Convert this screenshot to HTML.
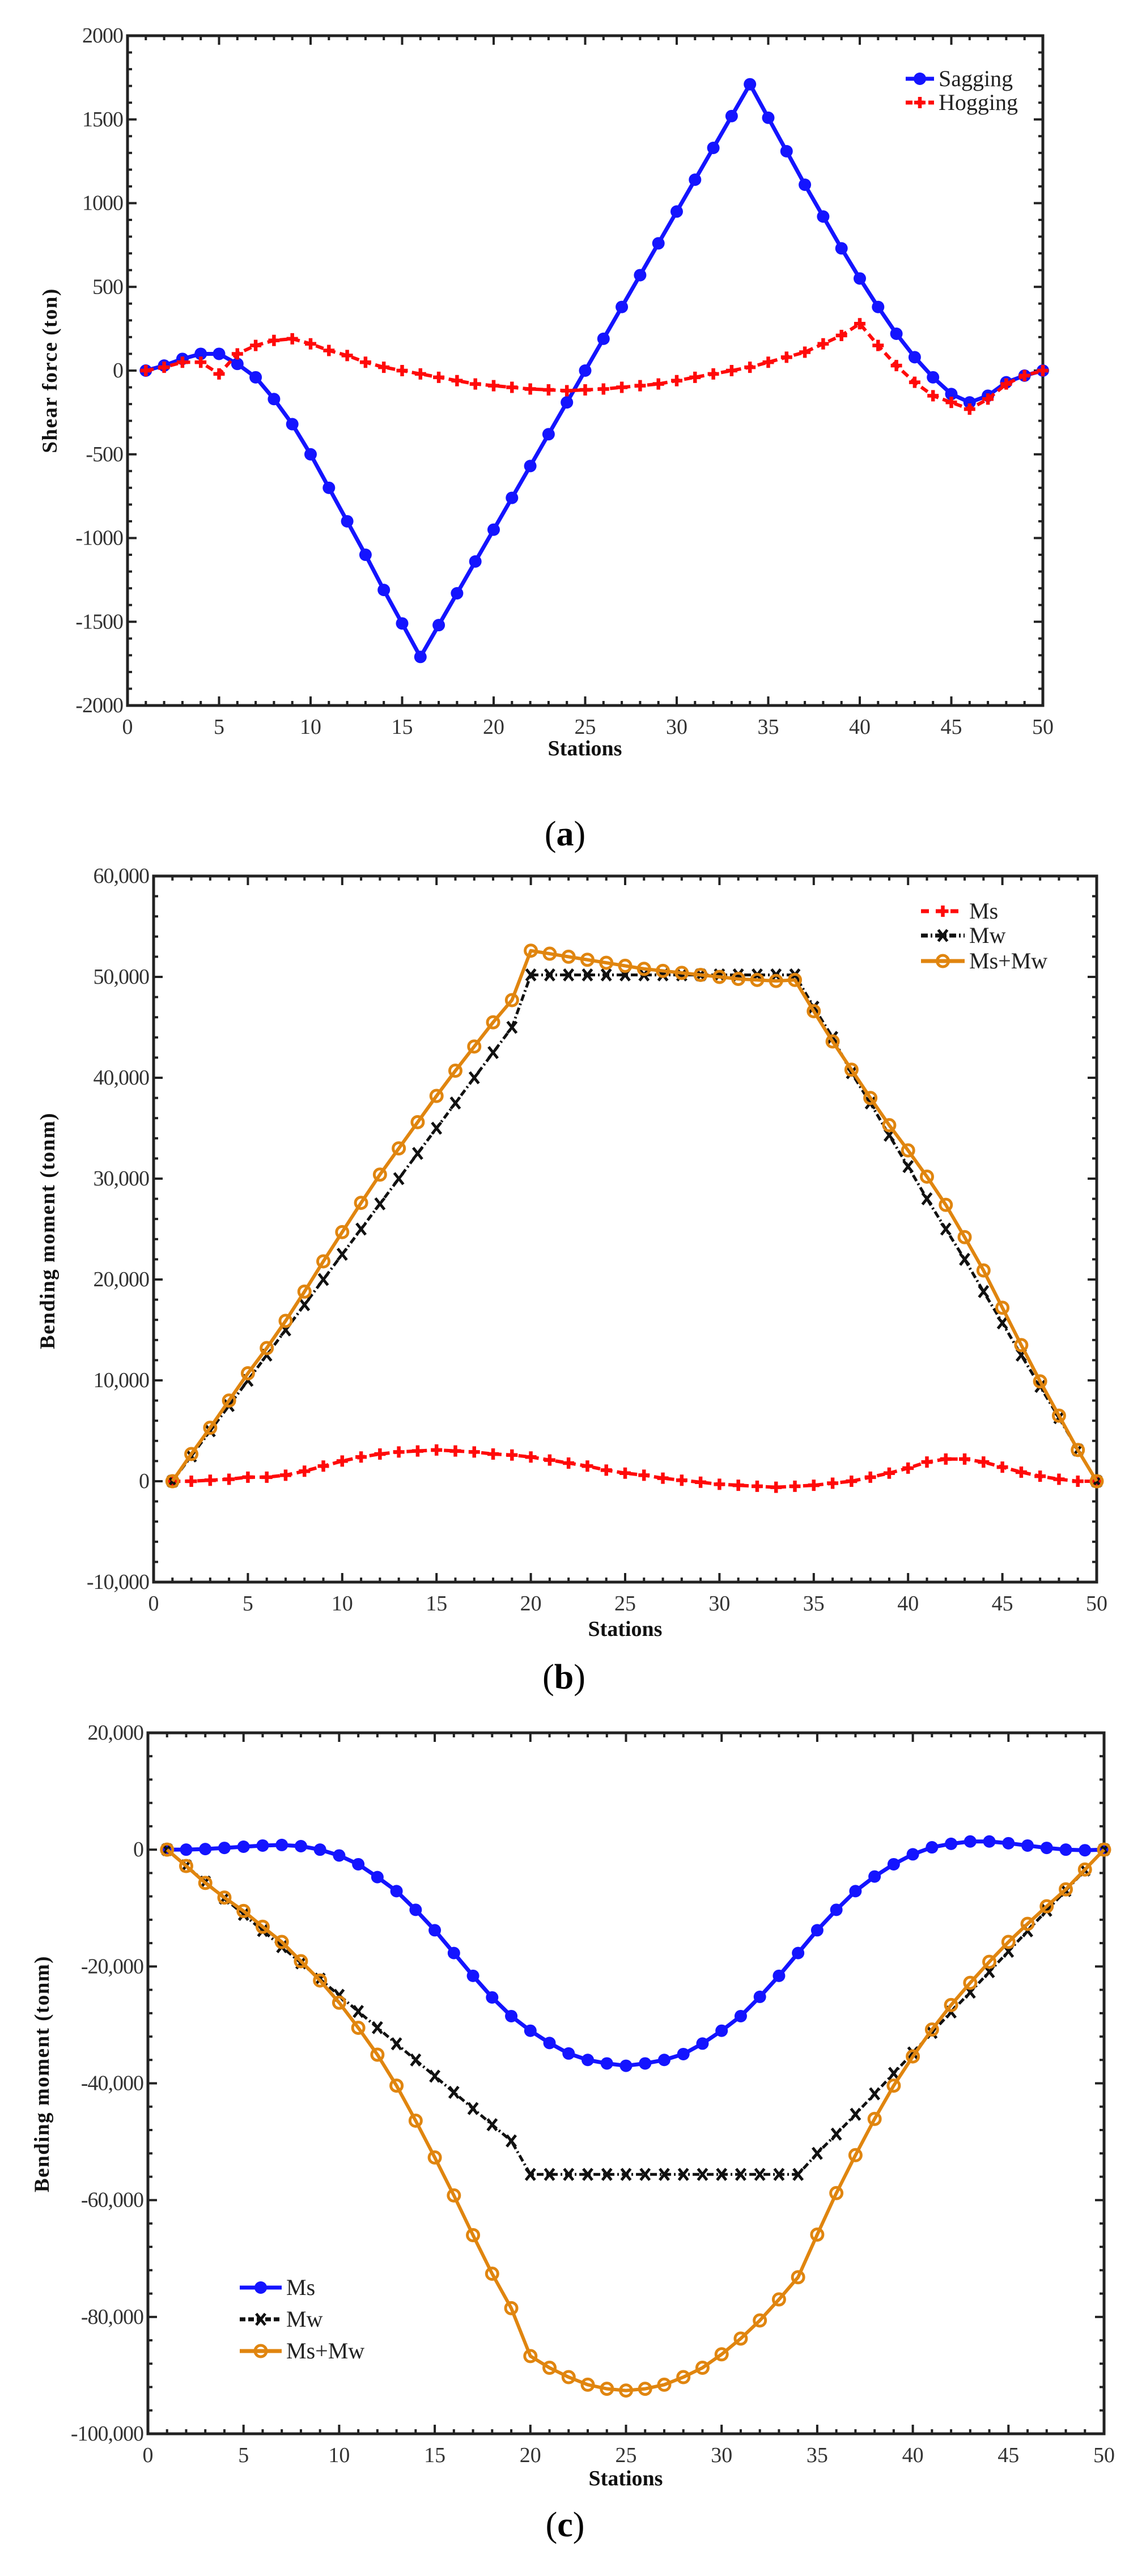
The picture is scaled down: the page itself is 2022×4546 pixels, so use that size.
<!DOCTYPE html>
<html><head><meta charset="utf-8"><style>
html,body{margin:0;padding:0;background:#fff;width:2022px;height:4546px;overflow:hidden}
svg{display:block}
text{font-family:"Liberation Serif",serif}
</style></head><body>
<svg id="s" width="2022" height="4546" xmlns="http://www.w3.org/2000/svg"></svg>
<script>
const S=document.getElementById('s');let out='';
function charts(c){
 const {L,R,T,B,ymin,ymax,ystep,yminor,fmt}=c;
 const X=v=>L+(R-L)*v/50, Y=v=>B-(B-T)*(v-ymin)/(ymax-ymin);
 let g='';
 for(let v=0;v<=50;v++){const x=X(v),len=v%5==0?16:8;
  g+=`<line x1="${x}" y1="${B}" x2="${x}" y2="${B-len}" stroke="#222" stroke-width="4"/><line x1="${x}" y1="${T}" x2="${x}" y2="${T+len}" stroke="#222" stroke-width="4"/>`;
  if(v%5==0)g+=`<text x="${x}" y="${B+50}" font-size="38" fill="#333" text-anchor="middle">${v}</text>`;}
 for(let v=ymin;v<=ymax+1e-6;v+=yminor){const y=Y(v),maj=Math.abs(Math.round((v-ymin)/ystep)*ystep-(v-ymin))<1e-6,len=maj?16:8;
  g+=`<line x1="${L}" y1="${y}" x2="${L+len}" y2="${y}" stroke="#222" stroke-width="4"/><line x1="${R}" y1="${y}" x2="${R-len}" y2="${y}" stroke="#222" stroke-width="4"/>`;
  if(maj)g+=`<text x="${L-8}" y="${y+12}" font-size="38" fill="#333" text-anchor="end" letter-spacing="-1">${fmt(v)}</text>`;}
 g+=`<rect x="${L}" y="${T}" width="${R-L}" height="${B-T}" fill="none" stroke="#222" stroke-width="5"/>`;
 for(const s of c.series){
  const pts=s.d.map((v,i)=>[X(i+1),Y(v)]);
  g+=`<polyline points="${pts.map(p=>p.join(',')).join(' ')}" fill="none" stroke="${s.col}" stroke-width="${s.w||6}" stroke-linejoin="round" ${s.dash?`stroke-dasharray="${s.dash}"`:''}/>`;
  for(const p of pts)g+=marker(s.m,p[0],p[1],s.col);
 }
 g+=`<text x="${c.sx}" y="${c.sy}" font-size="38" font-weight="bold" text-anchor="middle" fill="#111">Stations</text>`;
 g+=`<text transform="translate(${c.lx},${c.ly}) rotate(-90)" font-size="37" font-weight="bold" text-anchor="middle" fill="#111" letter-spacing="1.5">${c.ylab}</text>`;
 g+=`<text x="${c.px}" y="${c.py}" font-size="62" text-anchor="middle" fill="#000">(<tspan font-weight="bold">${c.pl}</tspan>)</text>`;
 for(const l of c.leg){
  g+=`<line x1="${l.x1}" y1="${l.y}" x2="${l.x2}" y2="${l.y}" stroke="${l.col}" stroke-width="7" ${l.dash?`stroke-dasharray="${l.dash}"`:''}/>`+marker(l.m,(l.x1+l.x2)/2,l.y,l.col);
  g+=`<text x="${l.x2+8}" y="${l.y+13}" font-size="40" fill="#222">${l.t}</text>`;
 }
 out+=g;
}
function marker(m,x,y,col){
 if(m=='o')return `<circle cx="${x}" cy="${y}" r="11" fill="${col}"/>`;
 if(m=='oo')return `<circle cx="${x}" cy="${y}" r="10" fill="none" stroke="${col}" stroke-width="5"/>`;
 if(m=='+')return `<path d="M${x-10} ${y}h20M${x} ${y-10}v20" stroke="${col}" stroke-width="6.5"/>`;
 if(m=='x')return `<path d="M${x-8} ${y-10}L${x+8} ${y+10}M${x+8} ${y-10}L${x-8} ${y+10}" stroke="${col}" stroke-width="5"/>`;
 return '';
}
const BL='#1414ff',RD='#ff0a0a',OR='#e0850f',BK='#111';
const comma=v=>v.toLocaleString('en-US');
charts({L:225,R:1840,T:63,B:1245,ymin:-2000,ymax:2000,ystep:500,yminor:100,fmt:v=>String(v),
 sx:1032,sy:1333,lx:100,ly:654,ylab:'Shear force (ton)',px:997,py:1492,pl:'a',
 series:[
 {col:BL,m:'o',w:7,d:[0,30,70,100,100,40,-40,-170,-320,-500,-700,-900,-1100,-1310,-1510,-1710,-1520,-1330,-1140,-950,-760,-570,-380,-190,0,190,380,570,760,950,1140,1330,1520,1710,1510,1310,1110,920,730,550,380,220,80,-40,-140,-190,-150,-70,-30,0]},
 {col:RD,m:'+',dash:'14 8',w:6,d:[0,20,50,50,-20,100,150,180,190,160,120,90,50,20,0,-20,-40,-60,-80,-90,-100,-110,-115,-120,-115,-110,-100,-90,-80,-60,-40,-20,0,20,50,80,110,160,210,280,150,30,-70,-150,-190,-230,-170,-80,-30,0]}],
 leg:[{x1:1598,x2:1648,y:139,col:BL,m:'o',t:'Sagging'},{x1:1598,x2:1648,y:181,col:RD,m:'+',dash:'12 8',t:'Hogging'}]});
charts({L:271,R:1935,T:1546,B:2792,ymin:-10000,ymax:60000,ystep:10000,yminor:2000,fmt:comma,
 sx:1103,sy:2887,lx:96,ly:2172,ylab:'Bending moment (tonm)',px:995,py:2980,pl:'b',
 series:[
 {col:RD,m:'+',dash:'14 8',d:[0,0,100,200,400,400,600,1000,1500,2000,2400,2700,2900,3000,3100,3000,2900,2700,2600,2400,2100,1800,1500,1100,800,600,300,100,-100,-300,-400,-500,-600,-500,-400,-200,0,400,800,1300,1900,2200,2200,1900,1400,900,500,200,0,0]},
 {col:BK,m:'x',dash:'12 5 3 5',w:5,d:(()=>{let a=[];for(let s=1;s<=19;s++)a.push(2500*(s-1));for(let s=20;s<=34;s++)a.push(50200);a.push(47000,44000,40500,37500,34300,31200,28000,25000,22000,18800,15700,12500,9400,6300,3100,0);return a})()},
 {col:OR,m:'oo',d:[0,2700,5300,8000,10700,13200,15900,18800,21800,24700,27600,30400,33000,35600,38200,40700,43100,45500,47700,52600,52300,52000,51700,51400,51100,50800,50600,50400,50200,50000,49800,49700,49600,49700,46600,43600,40800,38000,35300,32800,30200,27400,24200,20900,17200,13500,9900,6500,3100,0]}],
 leg:[{x1:1625,x2:1702,y:1608,col:RD,m:'+',dash:'14 12',t:'Ms'},{x1:1625,x2:1702,y:1651,col:BK,m:'x',dash:'12 5 3 5',t:'Mw'},{x1:1625,x2:1702,y:1696,col:OR,m:'oo',t:'Ms+Mw'}]});
charts({L:261,R:1948,T:3058,B:4295,ymin:-100000,ymax:20000,ystep:20000,yminor:4000,fmt:comma,
 sx:1104,sy:4386,lx:86,ly:3660,ylab:'Bending moment (tonm)',px:997,py:4476,pl:'c',
 series:[
 {col:BL,m:'o',w:7,d:[0,0,100,300,500,700,800,600,0,-1000,-2500,-4700,-7100,-10300,-13800,-17700,-21600,-25300,-28500,-31000,-33100,-34900,-36000,-36600,-37000,-36600,-36000,-35000,-33200,-31000,-28500,-25200,-21600,-17700,-13800,-10300,-7100,-4600,-2500,-800,400,1000,1400,1400,1100,700,300,0,-100,0]},
 {col:BK,m:'x',dash:'12 5 3 5',w:5,d:(()=>{let a=[];for(let s=1;s<=19;s++)a.push(-2770*(s-1));for(let s=20;s<=34;s++)a.push(-55600);a.push(-52000,-48700,-45300,-41800,-38300,-34800,-31300,-27800,-24400,-20900,-17400,-13900,-10400,-7000,-3500,0);return a})()},
 {col:OR,m:'oo',d:[0,-2800,-5700,-8200,-10500,-13200,-15800,-19100,-22400,-26200,-30500,-35100,-40400,-46400,-52700,-59200,-66000,-72600,-78500,-86700,-88700,-90300,-91600,-92300,-92600,-92300,-91600,-90300,-88700,-86400,-83700,-80600,-77000,-73200,-65900,-58800,-52300,-46100,-40400,-35400,-30800,-26600,-22800,-19200,-15800,-12700,-9700,-6800,-3400,0]}],
 leg:[{x1:423,x2:497,y:4037,col:BL,m:'o',t:'Ms'},{x1:423,x2:497,y:4093,col:BK,m:'x',dash:'10 5',t:'Mw'},{x1:423,x2:497,y:4149,col:OR,m:'oo',t:'Ms+Mw'}]});
S.innerHTML=out;
</script>
</body></html>
